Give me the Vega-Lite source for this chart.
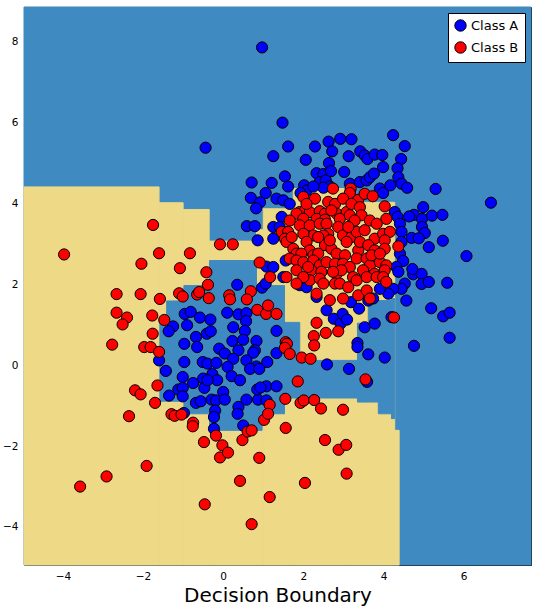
{
"$schema": "https://vega.github.io/schema/vega-lite/v6.json",
"width": 507, "height": 558,
"autosize": "none",
"padding": {"left": 24, "top": 7, "right": 7, "bottom": 45},
"config": {"view": {"stroke": "black", "strokeWidth": 1}, "font": "DejaVu Sans",
 "axis": {"grid": false, "domain": false, "labelColor": "black", "labelFontSize": 10.5, "labelFont": "DejaVu Sans", "tickColor": "black", "tickSize": -4, "tickWidth": 1, "labelPadding": 10, "titleColor": "black", "titleFont": "DejaVu Sans", "titleFontWeight": "normal"}},
"datasets": {
"regions": [
{"k":"A","x1":-4.97,"x2":7.68,"y1":-4.94,"y2":8.86},
{"k":"B","x1":-4.97,"x2":-1.60,"y1":-4.94,"y2":4.41},
{"k":"B","x1":-1.60,"x2":-1.00,"y1":-4.94,"y2":4.02},
{"k":"B","x1":-1.00,"x2":-0.35,"y1":-4.94,"y2":3.85},
{"k":"B","x1":-0.35,"x2":0.83,"y1":-4.94,"y2":3.07},
{"k":"B","x1":0.83,"x2":1.00,"y1":-4.94,"y2":3.35},
{"k":"B","x1":1.00,"x2":1.75,"y1":-4.94,"y2":3.87},
{"k":"B","x1":1.75,"x2":3.10,"y1":-4.94,"y2":4.37},
{"k":"B","x1":3.10,"x2":4.28,"y1":-4.94,"y2":4.03},
{"k":"B","x1":4.28,"x2":4.39,"y1":-4.94,"y2":-1.61},
{"k":"A","x1":-1.58,"x2":-1.41,"y1":-0.89,"y2":1.10},
{"k":"A","x1":-1.41,"x2":-0.98,"y1":-0.89,"y2":1.59},
{"k":"A","x1":-0.98,"x2":-0.34,"y1":-1.20,"y2":1.97},
{"k":"A","x1":-0.34,"x2":0.83,"y1":-1.61,"y2":2.59},
{"k":"A","x1":0.83,"x2":0.97,"y1":-1.61,"y2":1.97},
{"k":"A","x1":0.97,"x2":1.53,"y1":-1.20,"y2":1.97},
{"k":"A","x1":1.53,"x2":1.91,"y1":-0.81,"y2":1.06},
{"k":"A","x1":1.91,"x2":3.35,"y1":-0.81,"y2":0.12},
{"k":"A","x1":3.35,"x2":3.62,"y1":-0.91,"y2":1.04},
{"k":"A","x1":3.62,"x2":3.87,"y1":-0.91,"y2":1.60},
{"k":"A","x1":3.87,"x2":4.20,"y1":-1.20,"y2":1.60},
{"k":"A","x1":4.20,"x2":4.28,"y1":-1.32,"y2":1.65}
],
"points": [
{"c":"Class A","x":0.97,"y":7.86},{"c":"Class A","x":-0.44,"y":5.38},{"c":"Class A","x":0.71,"y":4.52},{"c":"Class A","x":1.06,"y":4.26},{"c":"Class A","x":0.69,"y":4.14},{"c":"Class A","x":0.92,"y":4.03},{"c":"Class A","x":0.82,"y":3.88},{"c":"Class A","x":0.59,"y":3.44},{"c":"Class A","x":0.79,"y":3.44},{"c":"Class A","x":0.86,"y":3.09},{"c":"Class A","x":1.08,"y":2.44},{"c":"Class A","x":0.35,"y":1.99},{"c":"Class A","x":0.97,"y":1.92},{"c":"Class A","x":1.06,"y":2.02},
{"c":"Class A","x":1.48,"y":6.0},{"c":"Class A","x":1.62,"y":5.41},{"c":"Class A","x":1.25,"y":5.17},{"c":"Class A","x":2.29,"y":5.41},{"c":"Class A","x":2.63,"y":5.53},{"c":"Class A","x":2.92,"y":5.60},{"c":"Class A","x":3.20,"y":5.59},{"c":"Class A","x":4.24,"y":5.69},{"c":"Class A","x":4.53,"y":5.42},{"c":"Class A","x":2.72,"y":5.29},{"c":"Class A","x":2.06,"y":5.08},{"c":"Class A","x":3.13,"y":5.17},{"c":"Class A","x":3.42,"y":5.29},{"c":"Class A","x":3.53,"y":5.19},{"c":"Class A","x":3.60,"y":5.10},{"c":"Class A","x":3.78,"y":5.21},{"c":"Class A","x":3.97,"y":5.20},{"c":"Class A","x":4.44,"y":5.10},{"c":"Class A","x":3.99,"y":4.90},{"c":"Class A","x":4.35,"y":4.87},{"c":"Class A","x":2.64,"y":5.0},
{"c":"Class A","x":5.30,"y":4.36},{"c":"Class A","x":6.68,"y":4.02},{"c":"Class A","x":4.99,"y":3.91},{"c":"Class A","x":4.76,"y":3.72},{"c":"Class A","x":4.64,"y":3.68},{"c":"Class A","x":4.96,"y":3.62},{"c":"Class A","x":5.21,"y":3.70},{"c":"Class A","x":5.47,"y":3.72},{"c":"Class A","x":4.96,"y":3.42},{"c":"Class A","x":5.03,"y":3.27},{"c":"Class A","x":4.70,"y":3.15},{"c":"Class A","x":4.88,"y":3.14},{"c":"Class A","x":5.13,"y":2.92},{"c":"Class A","x":5.48,"y":3.08},{"c":"Class A","x":6.07,"y":2.70},{"c":"Class A","x":4.74,"y":2.25},{"c":"Class A","x":4.95,"y":2.26},{"c":"Class A","x":4.95,"y":2.01},{"c":"Class A","x":5.13,"y":2.06},{"c":"Class A","x":5.59,"y":2.04},{"c":"Class A","x":4.72,"y":2.38},
{"c":"Class A","x":1.54,"y":4.67},{"c":"Class A","x":2.33,"y":4.75},{"c":"Class A","x":2.50,"y":4.73},{"c":"Class A","x":2.41,"y":4.53},{"c":"Class A","x":2.56,"y":4.57},{"c":"Class A","x":2.66,"y":4.42},{"c":"Class A","x":2.50,"y":4.39},{"c":"Class A","x":2.02,"y":4.45},{"c":"Class A","x":2.08,"y":4.32},{"c":"Class A","x":1.93,"y":4.26},{"c":"Class A","x":2.25,"y":4.42},{"c":"Class A","x":1.33,"y":4.12},{"c":"Class A","x":1.50,"y":4.08},{"c":"Class A","x":1.66,"y":3.99},{"c":"Class A","x":1.21,"y":4.51},{"c":"Class A","x":1.46,"y":3.67},{"c":"Class A","x":1.25,"y":3.42},{"c":"Class A","x":1.41,"y":3.42},{"c":"Class A","x":1.25,"y":3.13},{"c":"Class A","x":1.56,"y":2.59},{"c":"Class A","x":1.25,"y":2.43},{"c":"Class A","x":1.50,"y":2.18},{"c":"Class A","x":3.16,"y":4.49},{"c":"Class A","x":3.41,"y":4.53},{"c":"Class A","x":3.58,"y":4.57},{"c":"Class A","x":3.66,"y":4.65},{"c":"Class A","x":3.91,"y":4.37},{"c":"Class A","x":3.99,"y":4.26},{"c":"Class A","x":4.17,"y":4.45},{"c":"Class A","x":4.37,"y":4.65},{"c":"Class A","x":4.45,"y":4.49},{"c":"Class A","x":4.59,"y":4.39},{"c":"Class A","x":4.28,"y":3.79},{"c":"Class A","x":4.35,"y":3.67},{"c":"Class A","x":4.41,"y":3.50},{"c":"Class A","x":4.45,"y":3.30},{"c":"Class A","x":4.45,"y":3.05},{"c":"Class A","x":4.41,"y":2.76},{"c":"Class A","x":4.49,"y":2.58},{"c":"Class A","x":4.32,"y":2.43},{"c":"Class A","x":4.37,"y":2.31},{"c":"Class A","x":4.53,"y":2.02},{"c":"Class A","x":4.45,"y":1.89},{"c":"Class A","x":4.24,"y":1.89},{"c":"Class A","x":4.12,"y":1.77},{"c":"Class A","x":3.91,"y":1.89},{"c":"Class A","x":3.74,"y":1.65},{"c":"Class A","x":3.62,"y":1.60},{"c":"Class A","x":1.91,"y":1.98},{"c":"Class A","x":2.08,"y":1.93},{"c":"Class A","x":2.33,"y":1.69},{"c":"Class A","x":1.62,"y":4.42},{"c":"Class A","x":3.02,"y":4.78},{"c":"Class A","x":2.69,"y":4.80},{"c":"Class A","x":3.76,"y":4.74},
{"c":"Class A","x":2.58,"y":1.36},{"c":"Class A","x":2.76,"y":1.15},{"c":"Class A","x":2.93,"y":1.03},{"c":"Class A","x":2.98,"y":1.27},{"c":"Class A","x":3.09,"y":1.13},{"c":"Class A","x":3.19,"y":1.56},{"c":"Class A","x":3.39,"y":1.40},{"c":"Class A","x":3.53,"y":0.94},{"c":"Class A","x":3.78,"y":1.03},{"c":"Class A","x":4.20,"y":1.19},{"c":"Class A","x":4.57,"y":1.60},{"c":"Class A","x":5.19,"y":1.41},{"c":"Class A","x":5.49,"y":1.21},{"c":"Class A","x":5.65,"y":1.30},{"c":"Class A","x":5.65,"y":0.68},{"c":"Class A","x":4.76,"y":0.48},{"c":"Class A","x":4.03,"y":0.19},{"c":"Class A","x":3.62,"y":0.27},{"c":"Class A","x":3.35,"y":0.55},{"c":"Class A","x":3.35,"y":0.45},{"c":"Class A","x":3.14,"y":-0.09},{"c":"Class A","x":2.59,"y":0.02},{"c":"Class A","x":3.59,"y":-0.41},
{"c":"Class A","x":-0.96,"y":1.27},{"c":"Class A","x":-0.81,"y":1.32},{"c":"Class A","x":-0.58,"y":1.18},{"c":"Class A","x":-0.32,"y":1.13},{"c":"Class A","x":-1.25,"y":0.96},{"c":"Class A","x":-1.36,"y":0.84},{"c":"Class A","x":-0.90,"y":0.99},{"c":"Class A","x":-0.68,"y":0.70},{"c":"Class A","x":-0.97,"y":0.53},{"c":"Class A","x":-0.65,"y":0.45},{"c":"Class A","x":-0.41,"y":0.78},{"c":"Class A","x":-0.31,"y":0.84},{"c":"Class A","x":0.10,"y":1.30},{"c":"Class A","x":0.38,"y":1.26},{"c":"Class A","x":0.58,"y":1.29},{"c":"Class A","x":0.57,"y":1.09},{"c":"Class A","x":0.25,"y":0.94},{"c":"Class A","x":0.54,"y":0.85},{"c":"Class A","x":0.23,"y":0.60},{"c":"Class A","x":0.50,"y":0.63},{"c":"Class A","x":0.83,"y":0.60},{"c":"Class A","x":0.79,"y":0.37},{"c":"Class A","x":0.75,"y":0.31},{"c":"Class A","x":-0.10,"y":0.41},{"c":"Class A","x":0.04,"y":0.29},{"c":"Class A","x":0.38,"y":0.37},{"c":"Class A","x":0.25,"y":0.16},{"c":"Class A","x":0.58,"y":0.12},{"c":"Class A","x":0.83,"y":-0.03},{"c":"Class A","x":1.10,"y":0.08},{"c":"Class A","x":1.33,"y":0.30},{"c":"Class A","x":-1.60,"y":0.12},{"c":"Class A","x":-1.43,"y":-0.14},{"c":"Class A","x":-0.97,"y":0.08},{"c":"Class A","x":-0.51,"y":0.08},{"c":"Class A","x":-0.39,"y":0.04},{"c":"Class A","x":-0.17,"y":0.06},{"c":"Class A","x":-0.27,"y":-0.22},{"c":"Class A","x":-0.15,"y":-0.37},{"c":"Class A","x":-0.50,"y":-0.33},{"c":"Class A","x":-0.75,"y":-0.44},{"c":"Class A","x":-1.01,"y":-0.29},{"c":"Class A","x":-1.12,"y":-0.60},{"c":"Class A","x":-1.01,"y":-0.56},{"c":"Class A","x":-1.35,"y":-0.75},{"c":"Class A","x":-1.01,"y":-0.77},{"c":"Class A","x":-0.68,"y":-0.93},{"c":"Class A","x":-0.56,"y":-0.89},{"c":"Class A","x":-0.29,"y":-0.85},{"c":"Class A","x":-0.18,"y":-0.87},{"c":"Class A","x":-0.20,"y":-1.12},{"c":"Class A","x":-0.23,"y":-1.28},{"c":"Class A","x":0.0,"y":-0.66},{"c":"Class A","x":0.04,"y":-0.85},{"c":"Class A","x":0.38,"y":-1.03},{"c":"Class A","x":0.36,"y":-1.20},{"c":"Class A","x":0.58,"y":-0.85},{"c":"Class A","x":0.87,"y":-0.85},{"c":"Class A","x":1.08,"y":-0.87},{"c":"Class A","x":0.85,"y":-0.60},{"c":"Class A","x":1.08,"y":-0.52},{"c":"Class A","x":1.33,"y":-0.52},{"c":"Class A","x":0.50,"y":-1.49},{"c":"Class A","x":-0.23,"y":-1.57},{"c":"Class A","x":0.11,"y":-0.04},{"c":"Class A","x":0.21,"y":-0.27},{"c":"Class A","x":0.42,"y":-0.37},{"c":"Class A","x":0.67,"y":-0.09},{"c":"Class A","x":0.90,"y":-0.09},{"c":"Class A","x":0.93,"y":-0.55},{"c":"Class A","x":-0.47,"y":-0.56},{"c":"Class A","x":-0.39,"y":-0.37},{"c":"Class A","x":1.33,"y":0.85},{"c":"Class A","x":-0.98,"y":-1.18},
{"c":"Class B","x":-1.75,"y":3.47},{"c":"Class B","x":-3.97,"y":2.74},{"c":"Class B","x":-1.60,"y":2.77},{"c":"Class B","x":-0.83,"y":2.77},{"c":"Class B","x":-0.08,"y":2.99},{"c":"Class B","x":0.24,"y":2.99},{"c":"Class B","x":-2.04,"y":2.51},{"c":"Class B","x":-1.08,"y":2.40},{"c":"Class B","x":-0.42,"y":2.30},{"c":"Class B","x":0.91,"y":2.54},{"c":"Class B","x":-0.38,"y":1.99},{"c":"Class B","x":0.69,"y":1.83},{"c":"Class B","x":-2.66,"y":1.76},{"c":"Class B","x":-2.06,"y":1.76},{"c":"Class B","x":-1.58,"y":1.64},{"c":"Class B","x":-1.10,"y":1.78},{"c":"Class B","x":-1.01,"y":1.70},{"c":"Class B","x":-0.65,"y":1.75},{"c":"Class B","x":-0.60,"y":1.81},{"c":"Class B","x":-0.36,"y":1.66},{"c":"Class B","x":0.15,"y":1.73},{"c":"Class B","x":0.17,"y":1.63},{"c":"Class B","x":0.59,"y":1.63},
{"c":"Class B","x":-2.66,"y":1.30},{"c":"Class B","x":-2.40,"y":1.18},{"c":"Class B","x":-2.51,"y":1.01},{"c":"Class B","x":-1.77,"y":1.23},{"c":"Class B","x":-1.47,"y":1.12},{"c":"Class B","x":-1.76,"y":0.78},{"c":"Class B","x":-2.77,"y":0.51},{"c":"Class B","x":-1.97,"y":0.45},{"c":"Class B","x":-1.81,"y":0.45},{"c":"Class B","x":-1.60,"y":0.33},{"c":"Class B","x":-2.20,"y":-0.62},{"c":"Class B","x":-2.06,"y":-0.72},{"c":"Class B","x":-1.64,"y":-0.50},{"c":"Class B","x":-1.70,"y":-0.93},{"c":"Class B","x":-2.35,"y":-1.26},{"c":"Class B","x":-1.29,"y":-1.21},{"c":"Class B","x":-1.21,"y":-1.25},{"c":"Class B","x":-1.04,"y":-1.22},{"c":"Class B","x":-0.75,"y":-1.42},{"c":"Class B","x":-0.76,"y":-1.51},{"c":"Class B","x":-0.48,"y":-1.90},{"c":"Class B","x":-0.18,"y":-1.74},{"c":"Class B","x":-0.02,"y":-1.98},{"c":"Class B","x":-0.08,"y":-2.28},{"c":"Class B","x":0.12,"y":-2.16},{"c":"Class B","x":0.48,"y":-1.85},{"c":"Class B","x":0.61,"y":-1.64},{"c":"Class B","x":0.71,"y":-1.61},{"c":"Class B","x":0.90,"y":-2.29},{"c":"Class B","x":-1.91,"y":-2.49},{"c":"Class B","x":-2.91,"y":-2.75},{"c":"Class B","x":-3.57,"y":-3.0},{"c":"Class B","x":0.42,"y":-2.86},{"c":"Class B","x":-0.46,"y":-3.44},{"c":"Class B","x":0.71,"y":-3.93},{"c":"Class B","x":1.16,"y":-3.26},{"c":"Class B","x":1.02,"y":-1.35},{"c":"Class B","x":1.16,"y":-0.98},
{"c":"Class B","x":1.12,"y":-1.20},{"c":"Class B","x":0.85,"y":1.37},{"c":"Class B","x":1.07,"y":1.27},{"c":"Class B","x":1.12,"y":1.48},{"c":"Class B","x":1.33,"y":1.27},
{"c":"Class B","x":2.74,"y":4.37},{"c":"Class B","x":3.18,"y":4.37},{"c":"Class B","x":3.16,"y":4.26},{"c":"Class B","x":2.29,"y":4.12},{"c":"Class B","x":2.62,"y":4.04},{"c":"Class B","x":2.79,"y":3.99},{"c":"Class B","x":2.99,"y":4.12},{"c":"Class B","x":3.37,"y":4.09},{"c":"Class B","x":3.53,"y":4.24},{"c":"Class B","x":3.73,"y":4.18},{"c":"Class B","x":2.00,"y":4.16},{"c":"Class B","x":1.91,"y":3.79},{"c":"Class B","x":2.04,"y":3.83},{"c":"Class B","x":1.83,"y":3.75},{"c":"Class B","x":2.16,"y":3.79},{"c":"Class B","x":2.41,"y":3.81},{"c":"Class B","x":2.54,"y":3.75},{"c":"Class B","x":2.83,"y":3.75},{"c":"Class B","x":3.08,"y":3.79},{"c":"Class B","x":3.20,"y":3.99},{"c":"Class B","x":3.41,"y":3.91},{"c":"Class B","x":3.45,"y":3.71},{"c":"Class B","x":4.03,"y":3.93},{"c":"Class B","x":4.07,"y":3.62},{"c":"Class B","x":2.00,"y":3.62},{"c":"Class B","x":2.33,"y":3.62},{"c":"Class B","x":2.54,"y":3.60},{"c":"Class B","x":2.91,"y":3.62},{"c":"Class B","x":3.16,"y":3.71},{"c":"Class B","x":1.46,"y":3.30},{"c":"Class B","x":1.62,"y":3.30},{"c":"Class B","x":1.91,"y":3.46},{"c":"Class B","x":2.16,"y":3.46},{"c":"Class B","x":2.41,"y":3.50},{"c":"Class B","x":2.58,"y":3.50},{"c":"Class B","x":2.62,"y":3.25},{"c":"Class B","x":2.87,"y":3.42},{"c":"Class B","x":2.99,"y":3.21},{"c":"Class B","x":3.20,"y":3.17},{"c":"Class B","x":3.33,"y":3.30},{"c":"Class B","x":3.53,"y":3.34},{"c":"Class B","x":3.78,"y":3.13},{"c":"Class B","x":3.99,"y":3.25},{"c":"Class B","x":4.16,"y":3.30},{"c":"Class B","x":4.37,"y":2.94},{"c":"Class B","x":2.25,"y":3.21},{"c":"Class B","x":2.50,"y":3.21},{"c":"Class B","x":2.00,"y":3.25},{"c":"Class B","x":1.54,"y":3.13},{"c":"Class B","x":1.58,"y":3.05},{"c":"Class B","x":1.75,"y":2.88},{"c":"Class B","x":2.08,"y":3.05},{"c":"Class B","x":2.16,"y":2.84},{"c":"Class B","x":2.25,"y":2.72},{"c":"Class B","x":2.54,"y":2.97},{"c":"Class B","x":2.70,"y":2.88},{"c":"Class B","x":2.83,"y":2.76},{"c":"Class B","x":3.04,"y":2.72},{"c":"Class B","x":3.37,"y":2.84},{"c":"Class B","x":3.41,"y":3.05},{"c":"Class B","x":3.62,"y":2.97},{"c":"Class B","x":3.78,"y":2.84},{"c":"Class B","x":4.03,"y":3.09},{"c":"Class B","x":4.03,"y":2.88},{"c":"Class B","x":1.83,"y":2.76},{"c":"Class B","x":1.95,"y":2.76},{"c":"Class B","x":2.37,"y":2.76},{"c":"Class B","x":1.66,"y":2.64},{"c":"Class B","x":1.83,"y":2.59},{"c":"Class B","x":2.00,"y":2.55},{"c":"Class B","x":2.25,"y":2.59},{"c":"Class B","x":2.41,"y":2.47},{"c":"Class B","x":2.58,"y":2.55},{"c":"Class B","x":2.79,"y":2.51},{"c":"Class B","x":2.99,"y":2.51},{"c":"Class B","x":3.16,"y":2.43},{"c":"Class B","x":3.33,"y":2.64},{"c":"Class B","x":3.58,"y":2.64},{"c":"Class B","x":3.66,"y":2.47},{"c":"Class B","x":3.91,"y":2.55},{"c":"Class B","x":4.07,"y":2.47},{"c":"Class B","x":1.83,"y":2.35},{"c":"Class B","x":2.20,"y":2.35},{"c":"Class B","x":2.45,"y":2.31},{"c":"Class B","x":2.83,"y":2.26},{"c":"Class B","x":2.95,"y":2.35},{"c":"Class B","x":3.24,"y":2.18},{"c":"Class B","x":3.49,"y":2.35},{"c":"Class B","x":3.78,"y":2.26},{"c":"Class B","x":4.03,"y":2.35},{"c":"Class B","x":1.58,"y":2.18},{"c":"Class B","x":2.16,"y":2.10},{"c":"Class B","x":2.41,"y":2.14},{"c":"Class B","x":2.50,"y":2.02},{"c":"Class B","x":2.79,"y":2.02},{"c":"Class B","x":2.91,"y":2.02},{"c":"Class B","x":3.33,"y":2.10},{"c":"Class B","x":3.58,"y":2.18},{"c":"Class B","x":3.83,"y":2.18},{"c":"Class B","x":3.99,"y":2.18},{"c":"Class B","x":4.07,"y":2.06},{"c":"Class B","x":2.33,"y":1.77},{"c":"Class B","x":2.66,"y":1.61},{"c":"Class B","x":2.99,"y":1.65},{"c":"Class B","x":3.37,"y":1.73},{"c":"Class B","x":3.58,"y":1.85},{"c":"Class B","x":3.66,"y":1.65},
{"c":"Class B","x":1.66,"y":3.58},{"c":"Class B","x":2.08,"y":3.99},{"c":"Class B","x":2.70,"y":3.83},{"c":"Class B","x":3.28,"y":3.58},{"c":"Class B","x":3.66,"y":3.58},{"c":"Class B","x":3.83,"y":3.50},{"c":"Class B","x":3.12,"y":3.42},{"c":"Class B","x":2.12,"y":2.43},{"c":"Class B","x":3.08,"y":3.05},{"c":"Class B","x":2.66,"y":3.09},{"c":"Class B","x":2.37,"y":3.17},{"c":"Class B","x":1.71,"y":3.17},{"c":"Class B","x":3.70,"y":2.72},{"c":"Class B","x":3.91,"y":2.76},{"c":"Class B","x":2.74,"y":2.31},{"c":"Class B","x":3.12,"y":1.93},{"c":"Class B","x":2.00,"y":2.18},{"c":"Class B","x":1.83,"y":2.02},{"c":"Class B","x":1.17,"y":2.18},
{"c":"Class B","x":2.33,"y":1.05},{"c":"Class B","x":2.26,"y":0.72},{"c":"Class B","x":2.27,"y":0.49},{"c":"Class B","x":2.56,"y":0.80},{"c":"Class B","x":2.87,"y":0.84},{"c":"Class B","x":1.96,"y":0.19},{"c":"Class B","x":2.18,"y":0.16},{"c":"Class B","x":1.56,"y":0.57},{"c":"Class B","x":1.59,"y":0.53},{"c":"Class B","x":1.54,"y":0.43},{"c":"Class B","x":1.66,"y":0.28},{"c":"Class B","x":4.26,"y":1.18},{"c":"Class B","x":3.55,"y":-0.35},{"c":"Class B","x":1.86,"y":-0.40},{"c":"Class B","x":1.55,"y":-0.83},{"c":"Class B","x":1.93,"y":-0.93},{"c":"Class B","x":2.01,"y":-0.87},{"c":"Class B","x":2.27,"y":-0.86},{"c":"Class B","x":2.44,"y":-1.07},{"c":"Class B","x":2.99,"y":-1.10},{"c":"Class B","x":1.56,"y":-1.55},{"c":"Class B","x":2.54,"y":-1.85},{"c":"Class B","x":2.88,"y":-2.09},{"c":"Class B","x":3.07,"y":-1.97},{"c":"Class B","x":3.08,"y":-2.68},{"c":"Class B","x":2.04,"y":-2.91}
]
},
"layer": [
{"data": {"name": "regions"}, "mark": {"type": "rect", "strokeWidth": 1},
 "encoding": {
  "x": {"field": "x1", "type": "quantitative", "scale": {"domain": [-4.97, 7.68], "nice": false, "zero": false}, "axis": {"values": [-4, -2, 0, 2, 4, 6], "title": "Decision Boundary", "titleFontSize": 20, "titlePadding": 4}},
  "x2": {"field": "x2"},
  "y": {"field": "y1", "type": "quantitative", "scale": {"domain": [-4.94, 8.86], "nice": false, "zero": false}, "axis": {"values": [-4, -2, 0, 2, 4, 6, 8], "title": null}},
  "y2": {"field": "y2"},
  "fill": {"field": "k", "type": "nominal", "scale": {"domain": ["A", "B"], "range": ["#3f8bc1", "#eed987"]}, "legend": null},
  "stroke": {"field": "k", "type": "nominal", "scale": {"domain": ["A", "B"], "range": ["#3f8bc1", "#eed987"]}, "legend": null}
 }},
{"data": {"name": "points"}, "mark": {"type": "circle", "size": 125, "opacity": 1, "stroke": "black", "strokeWidth": 1},
 "encoding": {
  "x": {"field": "x", "type": "quantitative", "axis": {"orient": "top", "labels": false, "title": null, "values": [-4, -2, 0, 2, 4, 6]}},
  "y": {"field": "y", "type": "quantitative", "axis": {"orient": "right", "labels": false, "title": null, "values": [-4, -2, 0, 2, 4, 6, 8]}},
  "fill": {"field": "c", "type": "nominal", "scale": {"domain": ["Class A", "Class B"], "range": ["#0000ff", "#ff0000"]},
   "legend": {"orient": "top-right", "title": null, "fillColor": "white", "strokeColor": "black", "padding": 6, "offset": 6, "labelFontSize": 13, "labelFont": "DejaVu Sans", "labelColor": "black", "symbolType": "circle", "symbolSize": 130, "symbolStrokeColor": "black", "symbolStrokeWidth": 1, "symbolOpacity": 1, "rowPadding": 5, "cornerRadius": 0}}
 }}
],
"resolve": {"scale": {"fill": "independent"}, "axis": {"x": "independent", "y": "independent"}}
}
